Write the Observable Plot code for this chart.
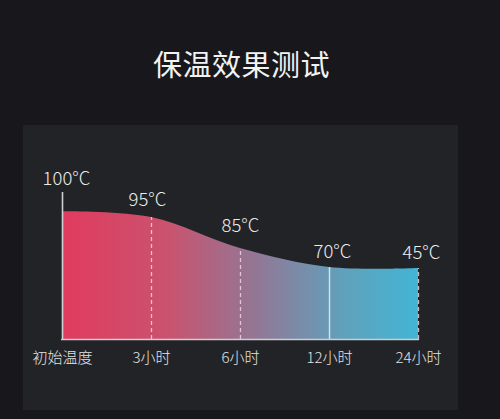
<!DOCTYPE html>
<html>
<head>
<meta charset="utf-8">
<script src="https://cdn.jsdelivr.net/npm/d3@7"></script>
<script src="https://cdn.jsdelivr.net/npm/@observablehq/plot@0.6"></script>
<style>
  html, body { margin: 0; padding: 0; }
  body { width: 500px; height: 419px; background: #18181c; position: relative; overflow: hidden;
         font-family: "Noto Sans CJK SC", "Noto Sans", sans-serif; }
  #title { position: absolute; left: 0; top: 43px; width: 483px; text-align: center;
           color: #f2f2f2; font-size: 29px; line-height: 40px; font-weight: 400; letter-spacing: 0.5px; }
  #panel { position: absolute; left: 23px; top: 125px; width: 435px; height: 285px; background: #222327; }
  #chart { position: absolute; left: 0; top: 150px; }
  #chart svg { overflow: visible; }
</style>
</head>
<body>
<div id="title">保温效果测试</div>
<div id="panel"></div>
<div id="chart"></div>
<script>
// Categories (x), temperature labels, and the plotted curve level at each category
const categories = ["初始温度", "3小时", "6小时", "12小时", "24小时"];
const tempLabels = ["100°C", "95°C", "85°C", "70°C", "45°C"];
const curveLevels = [100, 95.5, 71.2, 56.3, 55.5];
const axisTop = 115;

const data = categories.map((c, i) => ({cat: c, label: tempLabels[i], level: curveLevels[i]}));
const inner = data.slice(1);

const font = "'Noto Sans CJK SC', 'Noto Sans', sans-serif";
const labelStyle = {fontSize: 18.5, fill: "#ececec", fontFamily: font, fontWeight: 300};

const chart = Plot.plot({
  width: 500,
  height: 230,
  marginLeft: 61,
  marginRight: 81,
  marginTop: 42,
  marginBottom: 41,
  style: {background: "transparent", fontFamily: font, overflow: "visible"},
  x: {type: "point", domain: categories, padding: 0, axis: null},
  y: {domain: [0, axisTop], axis: null},
  marks: [
    Plot.areaY(data, {x: "cat", y: "level", curve: "catmull-rom", fill: "url(#heatGrad)"}),
    Plot.ruleX(inner.filter(d => d.cat !== "12小时"), {
      x: "cat", y1: 0, y2: "level", stroke: "#f4dbe6", strokeOpacity: 0.8,
      strokeWidth: 1.3, strokeDasharray: "4,3"
    }),
    Plot.ruleX(inner.filter(d => d.cat === "12小时"), {
      x: "cat", y1: 0, y2: "level", stroke: "#d6ecf6", strokeOpacity: 0.9, strokeWidth: 1.5
    }),
    Plot.ruleX([categories[0]], {y1: 0, y2: axisTop, stroke: "#cfcfd2", strokeWidth: 1.6}),
    Plot.ruleY([0], {stroke: "#cfcfd2", strokeWidth: 1.6}),
    Plot.text(data, {
      x: "cat", y: 0, text: "cat", dy: 19, fontSize: 15, fill: "#e4e4e4",
      fontFamily: font, fontWeight: 300
    }),
    Plot.text([data[0]], {x: "cat", y: axisTop, text: "label", dy: -13, dx: 4, ...labelStyle}),
    Plot.text([data[1]], {x: "cat", y: "level", text: "label", dy: -17, dx: -4, ...labelStyle}),
    Plot.text([data[2]], {x: "cat", y: "level", text: "label", dy: -22, dx: 0, ...labelStyle}),
    Plot.text(data.slice(3), {x: "cat", y: "level", text: "label", dy: -15, dx: 3, ...labelStyle})
  ]
});

// gradient definition for the area fill
const ns = "http://www.w3.org/2000/svg";
const defs = document.createElementNS(ns, "defs");
const grad = document.createElementNS(ns, "linearGradient");
grad.setAttribute("id", "heatGrad");
grad.setAttribute("x1", "0"); grad.setAttribute("x2", "1");
grad.setAttribute("y1", "0"); grad.setAttribute("y2", "0");
[["0", "#e13b5e"], ["0.3", "#c9536f"], ["0.55", "#917896"], ["0.8", "#5fa2bd"], ["1", "#42b5d4"]].forEach(([o, c]) => {
  const s = document.createElementNS(ns, "stop");
  s.setAttribute("offset", o);
  s.setAttribute("stop-color", c);
  grad.appendChild(s);
});
defs.appendChild(grad);
chart.insertBefore(defs, chart.firstChild);

document.getElementById("chart").appendChild(chart);
</script>
</body>
</html>
